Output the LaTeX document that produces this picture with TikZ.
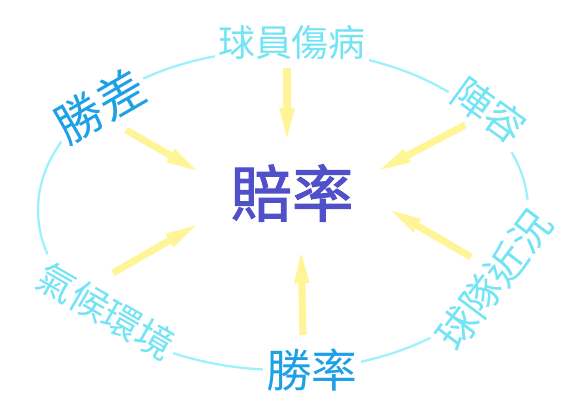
\documentclass[tikz,border=0pt]{standalone}
\usepackage{fontspec}
\newfontfamily\cjk{Noto Sans CJK TC}
\newfontfamily\cjkmid[FakeBold=1.8]{Noto Sans CJK TC}
\usetikzlibrary{arrows.meta}
\definecolor{ringcyan}{RGB}{155,242,250}
\definecolor{palecyan}{RGB}{115,228,245}
\definecolor{deepcyan}{RGB}{30,160,230}
\definecolor{oddsblue}{RGB}{80,80,200}
\definecolor{arrowyellow}{RGB}{255,245,150}

\begin{document}
\begin{tikzpicture}[x=0.02cm, y=-0.02cm,
  factor/.style={fill=white, inner sep=2pt},
  weak/.style={factor, text=palecyan},
  strong/.style={factor, text=deepcyan},
  push/.style={draw=arrowyellow, line width=4pt, -{Triangle[length=20pt, width=7.5pt]}}]
\useasboundingbox (0,0) rectangle (566,417);

% ring
\draw[ringcyan, line width=1.3pt] (283,210) ellipse [x radius=245, y radius=160];

% centre
\node[text=oddsblue, font=\cjkmid\fontsize{35}{35}\selectfont] (odds) at (292,193) {賠率};

% factors round the ring
\node[weak, font=\cjk\fontsize{21}{21}\selectfont] (injury) at (292,43) {球員傷病};
\node[weak, rotate=-36, font=\cjk\fontsize{22.5}{22.5}\selectfont] (lineup) at (489,110) {陣容};
\node[weak, rotate=53, font=\cjk\fontsize{23}{23}\selectfont] (form) at (494,280) {球隊近況};
\node[strong, font=\cjk\fontsize{26}{26}\selectfont] (winrate) at (312,370) {勝率};
\node[weak, rotate=-30, font=\cjk\fontsize{21.5}{21.5}\selectfont] (weather) at (106,311) {氣候環境};
\node[strong, rotate=30, font=\cjk\fontsize{27}{27}\selectfont] (margin) at (100,106) {勝差};

% arrows in
\coordinate (injury-out) at (287,68);   \coordinate (injury-in) at (287,143);
\coordinate (lineup-out) at (465,125);  \coordinate (lineup-in) at (376,172);
\coordinate (form-out) at (471,257);    \coordinate (form-in) at (387,208);
\coordinate (winrate-out) at (303,335); \coordinate (winrate-in) at (301,248);
\coordinate (weather-out) at (113,273); \coordinate (weather-in) at (200,223);
\coordinate (margin-out) at (126,130);  \coordinate (margin-in) at (201,173);

\draw[push] (injury-out) -- (injury-in);
\draw[push] (lineup-out) -- (lineup-in);
\draw[push] (form-out) -- (form-in);
\draw[push] (winrate-out) -- (winrate-in);
\draw[push] (weather-out) -- (weather-in);
\draw[push] (margin-out) -- (margin-in);

\end{tikzpicture}
\end{document}
